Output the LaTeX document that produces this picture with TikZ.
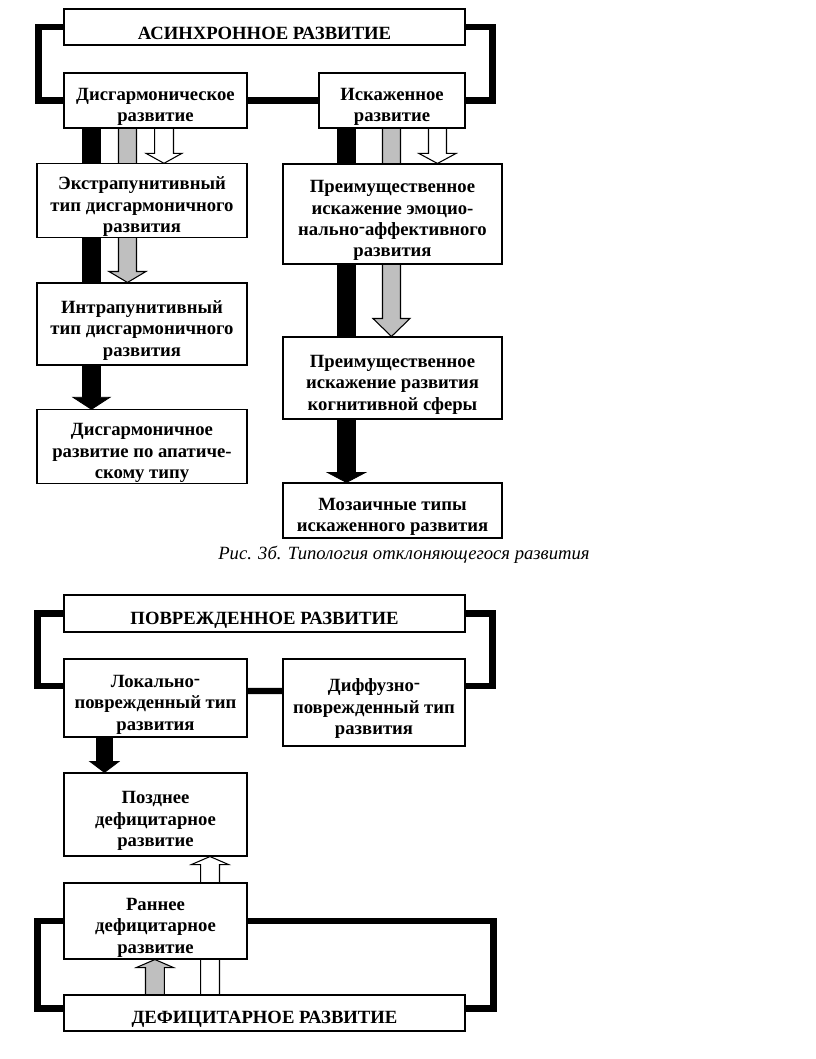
\documentclass[tikz,border=0pt]{standalone}
\usepackage{fontspec}
\setmainfont{Liberation Serif}
\usetikzlibrary{calc}
\pgfdeclarelayer{bg}
\pgfsetlayers{bg,main}
\newcommand\tstr{\rule{0pt}{19pt}}
\newcommand\rdash{\raisebox{0.35ex}{-}}
\tikzset{
  box/.style={draw, line width=0.8pt, fill=white, align=center, inner sep=0.5pt,
    font=\bfseries\fontsize{14}{16}\selectfont},
  link/.style={line width=4.8pt, line join=miter},
  blockarrow/.style n args={3}{to path={let \p1=(\tikztostart), \p2=(\tikztotarget) in
    (\x1-#1,\y1) -- (\x1-#1,\y2+#3) -- (\x1-#2,\y2+#3) -- (\x1,\y2) --
    (\x1+#2,\y2+#3) -- (\x1+#1,\y2+#3) -- (\x1+#1,\y1) -- cycle}},
  blockarrowup/.style n args={3}{to path={let \p1=(\tikztostart), \p2=(\tikztotarget) in
    (\x1-#1,\y1) -- (\x1-#1,\y2-#3) -- (\x1-#2,\y2-#3) -- (\x1,\y2) --
    (\x1+#2,\y2-#3) -- (\x1+#1,\y2-#3) -- (\x1+#1,\y1) -- cycle}},
  blackarrow/.style={fill=black, draw=black, line width=0.6pt},
  greyarrow/.style={fill=gray!50, draw=black, line width=0.8pt},
  whitearrow/.style={fill=white, draw=black, line width=0.8pt},
  caption/.style={font=\itshape\fontsize{14}{16}\selectfont, inner sep=0pt}
}
\begin{document}
\begin{tikzpicture}[x=0.75pt,y=-0.75pt]
\useasboundingbox (0,0) rectangle (816,1059);

% ---- upper diagram ----
\node[box, minimum width=300.75pt, minimum height=27pt] (A1) at (264.5,27) {\tstr АСИНХРОННОЕ РАЗВИТИЕ};
\node[box, minimum width=137.25pt, minimum height=41.25pt] (A2) at (155.5,100.5) {\tstr Дисгармоническое\\развитие};
\node[box, minimum width=109.5pt, minimum height=41.25pt] (A3) at (392,100.5) {\tstr Искаженное\\развитие};
\node[box, minimum width=157.5pt, minimum height=54.75pt] (A4) at (142,200.5) {\tstr Экстрапунитивный\\тип дисгармоничного\\развития};
\node[box, minimum width=157.5pt, minimum height=61.5pt] (A5) at (142,324) {\tstr Интрапунитивный\\тип дисгармоничного\\развития};
\node[box, minimum width=157.5pt, minimum height=54.75pt] (A6) at (142,446.5) {\tstr Дисгармоничное\\развитие по апатиче-\\скому типу};
\node[box, minimum width=164.25pt, minimum height=75pt] (A7) at (392.5,214) {\tstr Преимущественное\\искажение эмоцио-\\нально\rdash аффективного\\развития};
\node[box, minimum width=164.25pt, minimum height=61.5pt] (A8) at (392.5,378) {\tstr Преимущественное\\искажение развития\\когнитивной сферы};
\node[box, minimum width=164.25pt, minimum height=41.25pt] (A9) at (392.5,510.5) {\tstr Мозаичные типы\\искаженного развития};

\node[caption] (cap) at (404,555) {Рис. 3б. Типология отклоняющегося развития};

% ---- lower diagram ----
\node[box, minimum width=300.75pt, minimum height=27.75pt] (B1) at (264.5,613.5) {\tstr ПОВРЕЖДЕННОЕ РАЗВИТИЕ};
\node[box, minimum width=137.25pt, minimum height=58.5pt] (B2) at (155.5,698) {\tstr Локально\rdash\\поврежденный тип\\развития};
\node[box, minimum width=136.5pt, minimum height=65.25pt] (B3) at (374,702.5) {\tstr Диффузно\rdash\\поврежденный тип\\развития};
\node[box, minimum width=137.25pt, minimum height=62.25pt] (B4) at (155.5,814.5) {\tstr Позднее\\дефицитарное\\развитие};
\node[box, minimum width=137.25pt, minimum height=57pt] (B5) at (155.5,921) {\tstr Раннее\\дефицитарное\\развитие};
\node[box, minimum width=300.75pt, minimum height=27pt] (B6) at (264.5,1013) {\tstr ДЕФИЦИТАРНОЕ РАЗВИТИЕ};

\begin{pgfonlayer}{bg}
% brackets and links
\draw[link] (A1.west) -- ++(-25,0) |- (A2.west);
\draw[link] (A1.east) -- ++(27,0) |- (A3.east);
\draw[link] (A2.east) -- (A3.west);

\draw[link] (B1.west) -- ++(-26,0) |- ([yshift=9pt]B2.west);
\draw[link] (B1.east) -- ++(27,0) |- ([yshift=12.4pt]B3.east);
\draw[link] ([yshift=5.25pt]B2.east) -- ([yshift=8.6pt]B3.west);
\draw[link] (B5.west) -- ++(-26,0) |- ([yshift=3.4pt]B6.west);
\draw[link] (B5.east) -- ++(246,0) |- ([yshift=3.4pt]B6.east);

% block arrows, left column
\draw[blackarrow, blockarrow={6.75pt}{13.9pt}{9pt}] ([xshift=21pt]A2.west) to (A6.north);
\draw[greyarrow, blockarrow={6.75pt}{13.9pt}{8.25pt}] ([xshift=48pt]A2.west) to (A5.north);
\draw[whitearrow, blockarrow={7.1pt}{13.5pt}{7.5pt}] ([xshift=75.4pt]A2.west) to (A4.north);
% right column
\draw[blackarrow, blockarrow={6.75pt}{14.25pt}{7.5pt}] ([xshift=21pt]A3.west) to (A9.north);
\draw[greyarrow, blockarrow={6.75pt}{13.9pt}{13.5pt}] ([xshift=54.75pt]A3.west) to (A8.north);
\draw[whitearrow, blockarrow={6.75pt}{13.9pt}{7.5pt}] ([xshift=89.25pt]A3.west) to (A7.north);
% lower diagram
\draw[blackarrow, blockarrow={6pt}{10.9pt}{8.25pt}] ([xshift=30.75pt]B2.west) to (B4.north);
\draw[greyarrow, blockarrowup={7.1pt}{13.9pt}{6pt}] ([xshift=68.6pt]B6.west) to (B5.south);
\draw[whitearrow, blockarrowup={7.1pt}{13.9pt}{6pt}] ([xshift=109.9pt]B6.west) to (B4.south);
\end{pgfonlayer}
\end{tikzpicture}
\end{document}
